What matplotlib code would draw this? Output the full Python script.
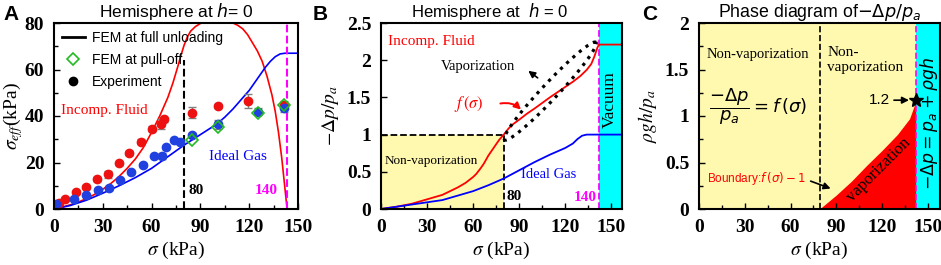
import numpy as np
import matplotlib.pyplot as plt
from matplotlib.lines import Line2D
from matplotlib.ticker import MultipleLocator

plt.rcParams['font.family'] = 'Liberation Serif'
plt.rcParams['mathtext.fontset'] = 'stix'

# ---- panel A data ----
sig_a = [0, 5, 10, 15, 20, 25, 30, 35, 40, 45, 50, 55, 60, 65, 70, 73, 76, 78, 80, 82,
         84, 87, 90, 95, 100, 105, 110, 113, 116, 119, 122, 125, 128, 131, 134, 136,
         138, 140, 141.5, 143.3, 150]
incomp_a = [0, 0.8, 1.8, 3, 4.5, 6.3, 8.5, 11, 14, 17.5, 21.5, 26.5, 33, 40, 48, 54,
            61, 66, 70.5, 74, 76.5, 78.5, 79.8, 80.8, 81.2, 80.8, 80, 79, 77.5, 75,
            71.5, 68, 63.5, 57, 49, 42, 33, 22, 12, 0, 0]
sig_gas_a = [0, 10, 20, 30, 40, 50, 60, 70, 80, 90, 100, 105, 110, 115, 120, 125, 130,
             133, 136, 139, 142, 150]
gas_a = [0, 1.5, 3.8, 6.8, 10, 13.5, 17.5, 22.5, 27.5, 32, 36.5, 39.5, 43, 47, 51, 56,
         61, 63.5, 65.5, 66.7, 67, 67]

exp_red_sig = [3.1, 6.8, 13.5, 19.7, 26.6, 33.0, 40.2, 46.3, 53.3, 60.5, 66.0, 67.6,
               85, 100.6, 119.4, 141.4]
exp_red = [2.7, 4.4, 7.3, 9.6, 12.8, 14.9, 19.6, 24.2, 29.0, 34.6, 36.4, 38.6,
           41.4, 44.3, 46.6, 44.7]
exp_red_err = [0.5, 0.5, 0.6, 0.6, 0.8, 1.5, 0.8, 0.8, 1.2, 1.0, 2.2, 1.0,
               2.3, 1.0, 3.0, 1.8]
exp_blue_sig = [1.0, 12.5, 19.7, 26.8, 33.8, 40.6, 47.3, 54.5, 61.7, 66.2, 68.9,
                73.8, 77.6, 85, 100.6, 125.2, 141.4]
exp_blue = [2.0, 4.3, 5.9, 8.2, 9.2, 12.5, 15.8, 19.1, 22.8, 22.8, 26.5,
            29.7, 29.0, 31.8, 36.4, 41.9, 43.3]
exp_blue_err = [0.5, 0.5, 0.5, 0.5, 0.5, 0.5, 0.5, 0.5, 0.6, 1.2, 0.6,
                0.6, 1.2, 0.8, 2.0, 1.5, 1.5]
fem_sig = [85, 100.6, 125.2, 141.4]
fem_pull = [29.7, 35.1, 41.3, 44.9]

# ---- panel B data ----
sig_b = [0, 5, 10, 15, 20, 25, 30, 35, 40, 45, 50, 55, 60, 62, 65, 67, 70, 72, 75, 77,
         80, 83, 86, 90, 95, 100, 110, 120, 125, 130, 134, 137, 139, 141, 142, 157]
f_sigma = [0, 0.015, 0.03, 0.05, 0.07, 0.1, 0.13, 0.16, 0.19, 0.24, 0.29, 0.35, 0.43,
           0.47, 0.55, 0.61, 0.72, 0.78, 0.87, 0.93, 1.0, 1.08, 1.14, 1.2, 1.28, 1.35,
           1.5, 1.64, 1.71, 1.79, 1.87, 1.95, 2.05, 2.17, 2.21, 2.21]
sig_gas_b = [0, 10, 20, 30, 40, 50, 60, 70, 80, 90, 100, 110, 120, 125, 128, 131, 134,
             157]
gas_b = [0, 0.03, 0.06, 0.09, 0.12, 0.18, 0.24, 0.32, 0.41, 0.52, 0.63, 0.73, 0.82,
         0.88, 0.94, 0.985, 1.0, 1.0]

# ---- panel C data ----
sig_c = [79, 90, 100, 110, 120, 130, 138, 142]
boundary_c = [0, 0.15, 0.3, 0.47, 0.63, 0.8, 0.97, 1.15]

s_crit = 80
s_vac = 142

RED = '#ff0000'
BLUE = '#0000ff'
YELLOW = '#fff9b0'
CYAN = '#00ffff'
MAG = '#ff00ff'

fig = plt.figure(figsize=(9.41, 2.65), dpi=100)
axA = fig.add_axes([54/941, 56/265, 244/941, 186/265])
axB = fig.add_axes([381/941, 56/265, 241/941, 186/265])
axC = fig.add_axes([699/941, 56/265, 241/941, 186/265])

for ax in (axA, axB, axC):
    ax.tick_params(direction='in', which='both', labelsize=14)
    ax.tick_params(axis='x', pad=7)
    ax.tick_params(axis='y', pad=7)
    ax.tick_params(which='major', length=4, width=1)
    ax.tick_params(which='minor', length=3, width=1)
    for sp in ax.spines.values():
        sp.set_linewidth(1.5)
    ax.set_xlabel(r'$\sigma$ (kPa)', fontsize=14, labelpad=3)
    ax.xaxis.set_major_locator(MultipleLocator(30))
    ax.xaxis.set_minor_locator(MultipleLocator(15))

# ---- A ----
axA.plot(sig_a, incomp_a, color=RED, lw=1.2)
axA.plot(sig_gas_a, gas_a, color=BLUE, lw=1.2)
axA.plot([s_crit, s_crit], [0, 64], '--', color='black', lw=1.5)
axA.axvline(143, color=MAG, ls='--', lw=1.5)
axA.errorbar(exp_red_sig, exp_red, yerr=exp_red_err, fmt='none', ecolor='gray',
             capsize=3, lw=1)
axA.errorbar(exp_blue_sig, exp_blue, yerr=exp_blue_err, fmt='none', ecolor='gray',
             capsize=3, lw=1)
axA.plot(exp_red_sig, exp_red, 'o', color='#ee1111', ms=6)
axA.plot(exp_blue_sig, exp_blue, 'o', color='#2040e0', ms=6)
axA.plot(fem_sig, fem_pull, 'D', mfc='none', mec='#22bb22', ms=6, mew=1.2)
axA.set_xlim(0, 150)
axA.set_ylim(0, 80)
axA.yaxis.set_major_locator(MultipleLocator(20))
axA.yaxis.set_minor_locator(MultipleLocator(10))
axA.set_ylabel(r'$\sigma_{eff}$(kPa)', fontsize=14, labelpad=0)
axA.text(4.5, 42.5, 'Incomp. Fluid', color=RED, fontsize=11, va='center')
axA.text(95, 22.5, 'Ideal Gas', color=BLUE, fontsize=11, va='center')
axA.text(82.5, 8, '80', fontsize=11, fontweight='bold', va='center')
axA.text(123.5, 8, '140', fontsize=11, fontweight='bold', color=MAG, va='center')
handles = [Line2D([], [], color='black', lw=2),
           Line2D([], [], marker='D', ls='none', mfc='none', mec='#22bb22', ms=6, mew=1.2),
           Line2D([], [], marker='o', ls='none', color='black', ms=6)]
axA.legend(handles, ['FEM at full unloading', 'FEM at pull-off', 'Experiment'],
           loc='upper left', frameon=False, prop={'family': 'Liberation Sans', 'size': 10},
           handlelength=1.6, handletextpad=0.5, labelspacing=0.55,
           borderaxespad=0.2, bbox_to_anchor=(0.0, 1.0))
axA.set_title('Hemisphere at $h$= 0', fontsize=12.5, family='Liberation Sans',
              math_fontfamily='dejavusans', pad=4)

# ---- B ----
axB.fill_between([0, s_crit], 0, 1, color=YELLOW, lw=0)
axB.axvspan(s_vac, 157, color=CYAN, lw=0)
axB.plot([0, s_crit], [1, 1], '--', color='black', lw=1.3)
axB.plot([s_crit, s_crit], [0, 1], '--', color='black', lw=1.3)
axB.axvline(s_vac, color=MAG, ls='--', lw=1.3)
axB.plot(sig_b, f_sigma, color=RED, lw=1.3)
axB.plot(sig_gas_b, gas_b, color=BLUE, lw=1.3)
# dotted lens around the vaporization branch
sx, sy = 241 / 157, 186 / 2.5
p0 = np.array([80.5 * sx, 0.93 * sy])
p1 = np.array([140 * sx, 2.24 * sy])
c = (p0 + p1) / 2
d = (p1 - p0) / np.linalg.norm(p1 - p0)
nrm = np.array([-d[1], d[0]])
a_len = np.linalg.norm(p1 - p0) / 2
t = np.linspace(0, 2 * np.pi, 200)
pts = c[:, None] + np.outer(d, a_len * np.cos(t)) + np.outer(nrm, 8 * np.sin(t))
axB.plot(pts[0] / sx, pts[1] / sy, ':', color='black', lw=2.3)
axB.annotate('', xy=(94.5, 1.88), xytext=(103.5, 1.74),
             arrowprops=dict(arrowstyle='-|>', color='black', lw=1.2, mutation_scale=10))
axB.annotate('', xy=(92.5, 1.31), xytext=(76, 1.41),
             arrowprops=dict(arrowstyle='-|>', color=RED, lw=1.4, mutation_scale=10,
                             connectionstyle='arc3,rad=-0.3'))
axB.text(63, 1.92, 'Vaporization', fontsize=10.5, ha='center', va='center')
axB.text(57, 1.41, r'$f\,(\sigma)$', color=RED, fontsize=12, ha='center', va='center')
axB.text(4.8, 2.25, 'Incomp. Fluid', color=RED, fontsize=11, va='center')
axB.text(2.5, 0.64, 'Non-vaporization', fontsize=9.5, va='center')
axB.text(91.5, 0.46, 'Ideal Gas', color=BLUE, fontsize=10.5, va='center')
axB.text(81.5, 0.17, '80', fontsize=11, fontweight='bold', va='center')
axB.text(140.3, 0.16, '140', fontsize=11, fontweight='bold', color=MAG,
         va='center', ha='right')
axB.text(149, 1.47, 'Vacuum', fontsize=12.5, rotation=90, ha='center', va='center')
axB.set_xlim(0, 157)
axB.set_ylim(0, 2.5)
axB.set_yticks([0, 0.5, 1, 1.5, 2, 2.5])
axB.set_yticklabels(['0', '0.5', '1', '1.5', '2', '2.5'])
axB.set_ylabel(r'$-\Delta p/p_a$', fontsize=14, labelpad=4)
axB.set_title('Hemisphere at  $h$ = 0', fontsize=12, family='Liberation Sans',
              math_fontfamily='dejavusans', pad=4, x=0.45)

# ---- C ----
axC.axvspan(0, s_vac, color=YELLOW, lw=0)
axC.axvspan(s_vac, 158, color=CYAN, lw=0)
axC.fill_between(sig_c + [s_vac], boundary_c + [boundary_c[-1]], 0, color=RED, lw=0)
axC.axvline(s_crit - 1, color='black', ls='--', lw=1.2)
axC.axvline(s_vac, color=MAG, ls='--', lw=1.2)
axC.plot([s_vac + 0.5], [1.17], '*', color='black', ms=10)
axC.annotate('', xy=(139.5, 1.17), xytext=(126, 1.17),
             arrowprops=dict(arrowstyle='-|>', color='black', lw=1.2, mutation_scale=10))
axC.text(125, 1.17, '1.2', fontsize=11, family='Liberation Sans', ha='right', va='center')
axC.text(38.5, 1.66, 'Non-vaporization', fontsize=10.5, ha='center', va='center')
axC.text(84, 1.6, 'Non-\nvaporization', fontsize=11, ha='left', va='center',
         linespacing=1.25)
axC.text(39, 1.1, r'$\dfrac{-\Delta p}{p_a} = f\,(\sigma)$', fontsize=13,
         ha='center', va='center', math_fontfamily='dejavusans')
axC.text(118, 0.42, 'vaporization', fontsize=12, rotation=45, ha='center', va='center')
axC.text(5, 0.33, r'Boundary:$f\,(\sigma)-1$', color=RED, fontsize=8.5,
         family='Liberation Sans', math_fontfamily='dejavusans', va='center')
axC.annotate('', xy=(88, 0.21), xytext=(71.5, 0.31),
             arrowprops=dict(arrowstyle='-|>', color='black', lw=1.2, mutation_scale=10))
axC.text(151, 0.92, r'$-\Delta p = p_a + \rho g h$', fontsize=12.5, rotation=90,
         ha='center', va='center', math_fontfamily='dejavusans')
axC.set_xlim(0, 158)
axC.set_ylim(0, 2)
axC.set_yticks([0, 0.5, 1, 1.5, 2])
axC.set_yticklabels(['0', '0.5', '1', '1.5', '2'])
axC.yaxis.set_minor_locator(MultipleLocator(0.25))
axC.set_ylabel(r'$\rho g h/p_a$', fontsize=14, labelpad=4)
axC.set_title(r'Phase diagram of$-\Delta p/p_a$', fontsize=12.8, family='Liberation Sans',
              math_fontfamily='dejavusans', pad=4)

for ax in (axA, axB, axC):
    for lab in ax.get_xticklabels() + ax.get_yticklabels():
        lab.set_fontweight('bold')

fig.text(3/941, 1 - 15/265, 'A', fontsize=15, fontweight='bold', family='Liberation Sans', va='center')
fig.text(313/941, 1 - 15/265, 'B', fontsize=15, fontweight='bold', family='Liberation Sans', va='center')
fig.text(642/941, 1 - 15/265, 'C', fontsize=15, fontweight='bold', family='Liberation Sans', va='center')

fig.savefig('out.png', dpi=100)
